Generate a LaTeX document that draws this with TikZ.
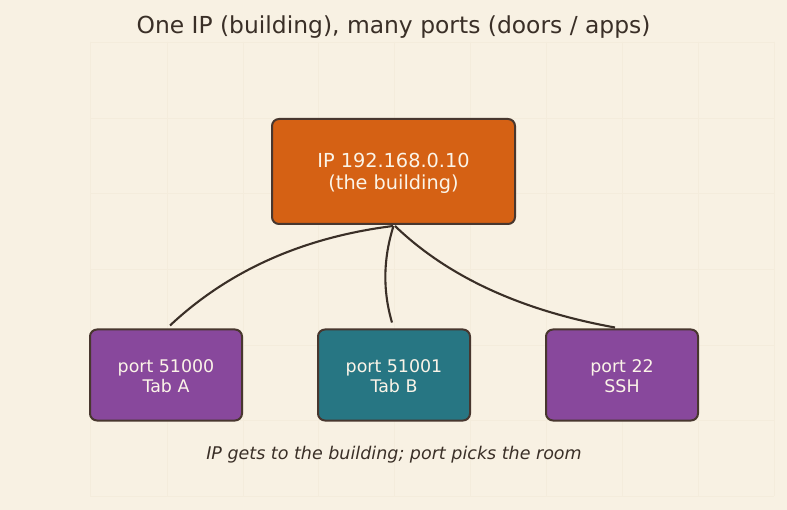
\documentclass[tikz,border=0pt]{standalone}
\usepackage{fontspec}
\setmainfont{DejaVu Sans}
\usetikzlibrary{calc}
\definecolor{bgc}{HTML}{F8F1E3}
\definecolor{gridc}{HTML}{F4ECDC}
\definecolor{inkc}{HTML}{3A2F27}
\definecolor{edgec}{HTML}{48372F}
\definecolor{ipc}{HTML}{D56114}
\definecolor{purc}{HTML}{88489C}
\definecolor{tealc}{HTML}{277683}
\definecolor{txtc}{HTML}{FBF4E8}
\tikzset{
  boxbase/.style={draw=edgec, line width=2pt, rounded corners=7pt, inner sep=0pt},
  ipbox/.style={boxbase, fill=ipc, minimum width=243pt, minimum height=105pt},
  portbox/.style={boxbase, minimum width=152pt, minimum height=91pt},
  iptext/.style={text=txtc, align=center, inner sep=0pt, font=\fontsize{19.3}{22}\selectfont},
  porttext/.style={text=txtc, align=center, inner sep=0pt, font=\fontsize{17.4}{20}\selectfont},
  conn/.style={draw=inkc, line width=2.1pt}
}
\begin{document}
\begin{tikzpicture}[x=1pt,y=-1pt]
\fill[bgc] (0,0) rectangle (787,510);
\useasboundingbox (0,0) rectangle (787,510);
% faint grid
\foreach \gx in {90,167,243,318,394,470,546,622,698,774}
  \draw[gridc, line width=0.8pt] (\gx,42) -- (\gx,496);
\foreach \gy in {42,118,193,269,345,420,496}
  \draw[gridc, line width=0.8pt] (90,\gy) -- (774,\gy);
% title
\node[text=inkc, font=\fontsize{23.4}{28}\selectfont] (title) at (393.5,27) {One IP (building), many ports (doors / apps)};
% boxes
\node[ipbox] (ip) at (393.5,171.5) {};
\node[portbox, fill=purc] (ta) at (166,375) {};
\node[portbox, fill=tealc] (tb) at (394,375) {};
\node[portbox, fill=purc] (ssh) at (622,375) {};
% box texts
\node[iptext] (iplbl) at ($(ip.center)+(0,1.5)$) {IP 192.168.0.10\\(the building)};
\node[porttext] (talbl) at ($(ta.center)+(0,1.5)$) {port 51000\\Tab A};
\node[porttext] (tblbl) at ($(tb.center)+(0,1.5)$) {port 51001\\Tab B};
\node[porttext] (sshlbl) at ($(ssh.center)+(0,1.5)$) {port 22\\SSH};
% caption
\node[text=inkc, font=\fontsize{17.5}{21}\selectfont\itshape] (cap) at (394,455) {IP gets to the building; port picks the room};
% connector endpoints and quadratic control points
\coordinate (s0) at ($(ip.south)+(-0.5,1)$);
\coordinate (s1) at ($(ip.south)+(0,1)$);
\coordinate (s2) at ($(ip.south)+(1.5,1)$);
\coordinate (ea) at ($(ta.north)+(4,-3)$);
\coordinate (eb) at ($(tb.north)+(-2,-6)$);
\coordinate (ec) at ($(ssh.north)+(-7,-1)$);
\coordinate (ca) at (258,243);
\coordinate (cb) at (378,275);
\coordinate (cc) at (474,302);
\draw[conn] (s0) .. controls ($(s0)!2/3!(ca)$) and ($(ea)!2/3!(ca)$) .. (ea);
\draw[conn] (s1) .. controls ($(s1)!2/3!(cb)$) and ($(eb)!2/3!(cb)$) .. (eb);
\draw[conn] (s2) .. controls ($(s2)!2/3!(cc)$) and ($(ec)!2/3!(cc)$) .. (ec);
\end{tikzpicture}
\end{document}
